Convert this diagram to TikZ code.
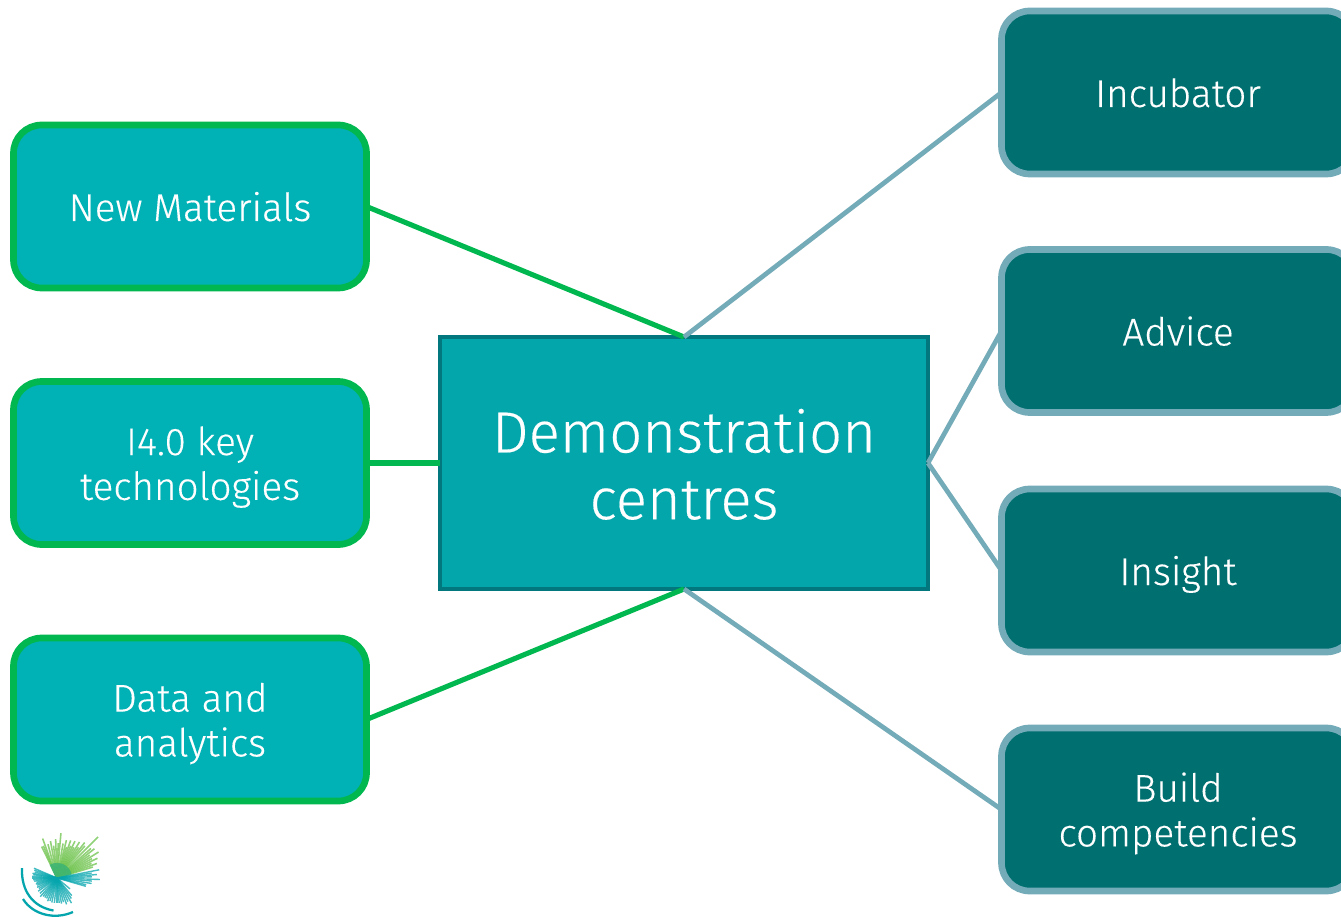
\documentclass[tikz,border=0pt]{standalone}
\usepackage{fontspec}
\setmainfont[FakeBold=0.3]{Fira Sans Light}
\definecolor{leftfill}{HTML}{00B1B5}
\definecolor{leftline}{HTML}{00B84F}
\definecolor{rightfill}{HTML}{006F70}
\definecolor{rightline}{HTML}{74ABB8}
\definecolor{midfill}{HTML}{02A6AB}
\definecolor{midline}{HTML}{02777D}
\definecolor{logoteal}{HTML}{05A5AD}
\definecolor{logogreen}{HTML}{6CC24A}
\tikzset{
  leftbox/.style={rectangle,rounded corners=16pt,draw=leftline,fill=leftfill,line width=3.8pt,
    outer sep=0pt,minimum width=7.06cm,minimum height=3.26cm,align=center,text=white,
    font=\fontsize{22}{25.5}\selectfont,text depth=0pt},
  rightbox/.style={rectangle,rounded corners=16pt,draw=rightline,fill=rightfill,line width=3.8pt,
    outer sep=0pt,minimum width=7.06cm,minimum height=3.26cm,align=center,text=white,
    font=\fontsize{22}{25.5}\selectfont,text depth=0pt},
  oneline/.style={text height=16.5pt},
  twoline/.style={text height=42pt},
  midbox/.style={rectangle,draw=midline,fill=midfill,line width=2.3pt,
    outer sep=0pt,minimum width=9.76cm,minimum height=5.04cm,align=center,text=white,
    font=\fontsize{33}{38}\selectfont,text height=64pt,text depth=0pt},
  greenline/.style={draw=leftline,line width=2.9pt},
  blueline/.style={draw=rightline,line width=2.7pt}
}
\begin{document}
\begin{tikzpicture}
\useasboundingbox (0,0) rectangle (26.82,18.32);
\clip (0,0) rectangle (26.82,18.32);
% left column
\node[leftbox,oneline] (materials) at (3.8,14.19) {New Materials};
\node[leftbox,twoline] (keytech) at (3.8,9.06) {I4.0 key\\technologies};
\node[leftbox,twoline] (analytics) at (3.8,3.93) {Data and\\analytics};
% right column
\node[rightbox,oneline] (incubator) at (23.56,16.47) {Incubator};
\node[rightbox,oneline] (advice) at (23.56,11.70) {Advice};
\node[rightbox,oneline] (insight) at (23.56,6.91) {Insight};
\node[rightbox,twoline] (build) at (23.56,2.13) {Build\\competencies};
% centre
\node[midbox] (centres) at (13.68,9.06) {Demonstration\\centres};
% connectors
\draw[greenline] (materials.east) -- (centres.north);
\draw[greenline] (keytech.east) -- (centres.west);
\draw[greenline] (analytics.east) -- (centres.south);
\draw[blueline] (incubator.west) -- (centres.north);
\draw[blueline] (advice.west) -- (centres.east);
\draw[blueline] (insight.west) -- (centres.east);
\draw[blueline] (build.west) -- (centres.south);
% logo
\coordinate (logo) at (1.14,0.76);
\foreach \ang/\len in {45/1.16,41/0.9,38/0.95,35/0.8,32/0.98,29/0.8,49/0.85,52/0.9,55/0.75,58/0.85,61/0.7,64/0.82,67/0.7,70/0.8,73/0.65,76/0.78,80/0.7,85/0.9,88/0.7,92/0.78,96/0.65,100/0.75,105/0.7,110/0.84,113/0.7,116/0.7,26/0.9,23/0.75,20/0.85,17/0.75}{
  \draw[logogreen,line width=0.9pt,opacity=.75] (logo) -- ++(\ang:\len);
  \draw[logoteal!50!logogreen,line width=1pt,opacity=.8] (logo) -- ++(\ang:0.3);
}
\foreach \ang/\len in {11/0.86,8/0.7,5/0.8,2/0.7,-2/0.86,-5/0.7,-9/0.7,-13/0.6,-16/0.6,157/0.5,161/0.48,165/0.46,169/0.5,172/0.48,176/0.5,180/0.5,184/0.48,188/0.46,192/0.42,196/0.44,200/0.42,205/0.44,210/0.42,215/0.46,222/0.46,228/0.5,233/0.46,238/0.46,243/0.46,248/0.5,253/0.48,258/0.5,264/0.5,270/0.5,275/0.5,280/0.52,285/0.5,290/0.56,295/0.52,300/0.58,305/0.5,310/0.46,320/0.34}
  \draw[logoteal,line width=0.8pt,opacity=.75] (logo) -- ++(\ang:\len);
\draw[logoteal,line width=1.3pt] (0.44,0.96) .. controls (0.42,0.5) and (0.66,0.18) .. (1.07,0.11);
\draw[logoteal,line width=1.3pt] (0.46,0.34) .. controls (0.66,0.02) and (1.1,-0.08) .. (1.46,0.08);
\end{tikzpicture}
\end{document}
